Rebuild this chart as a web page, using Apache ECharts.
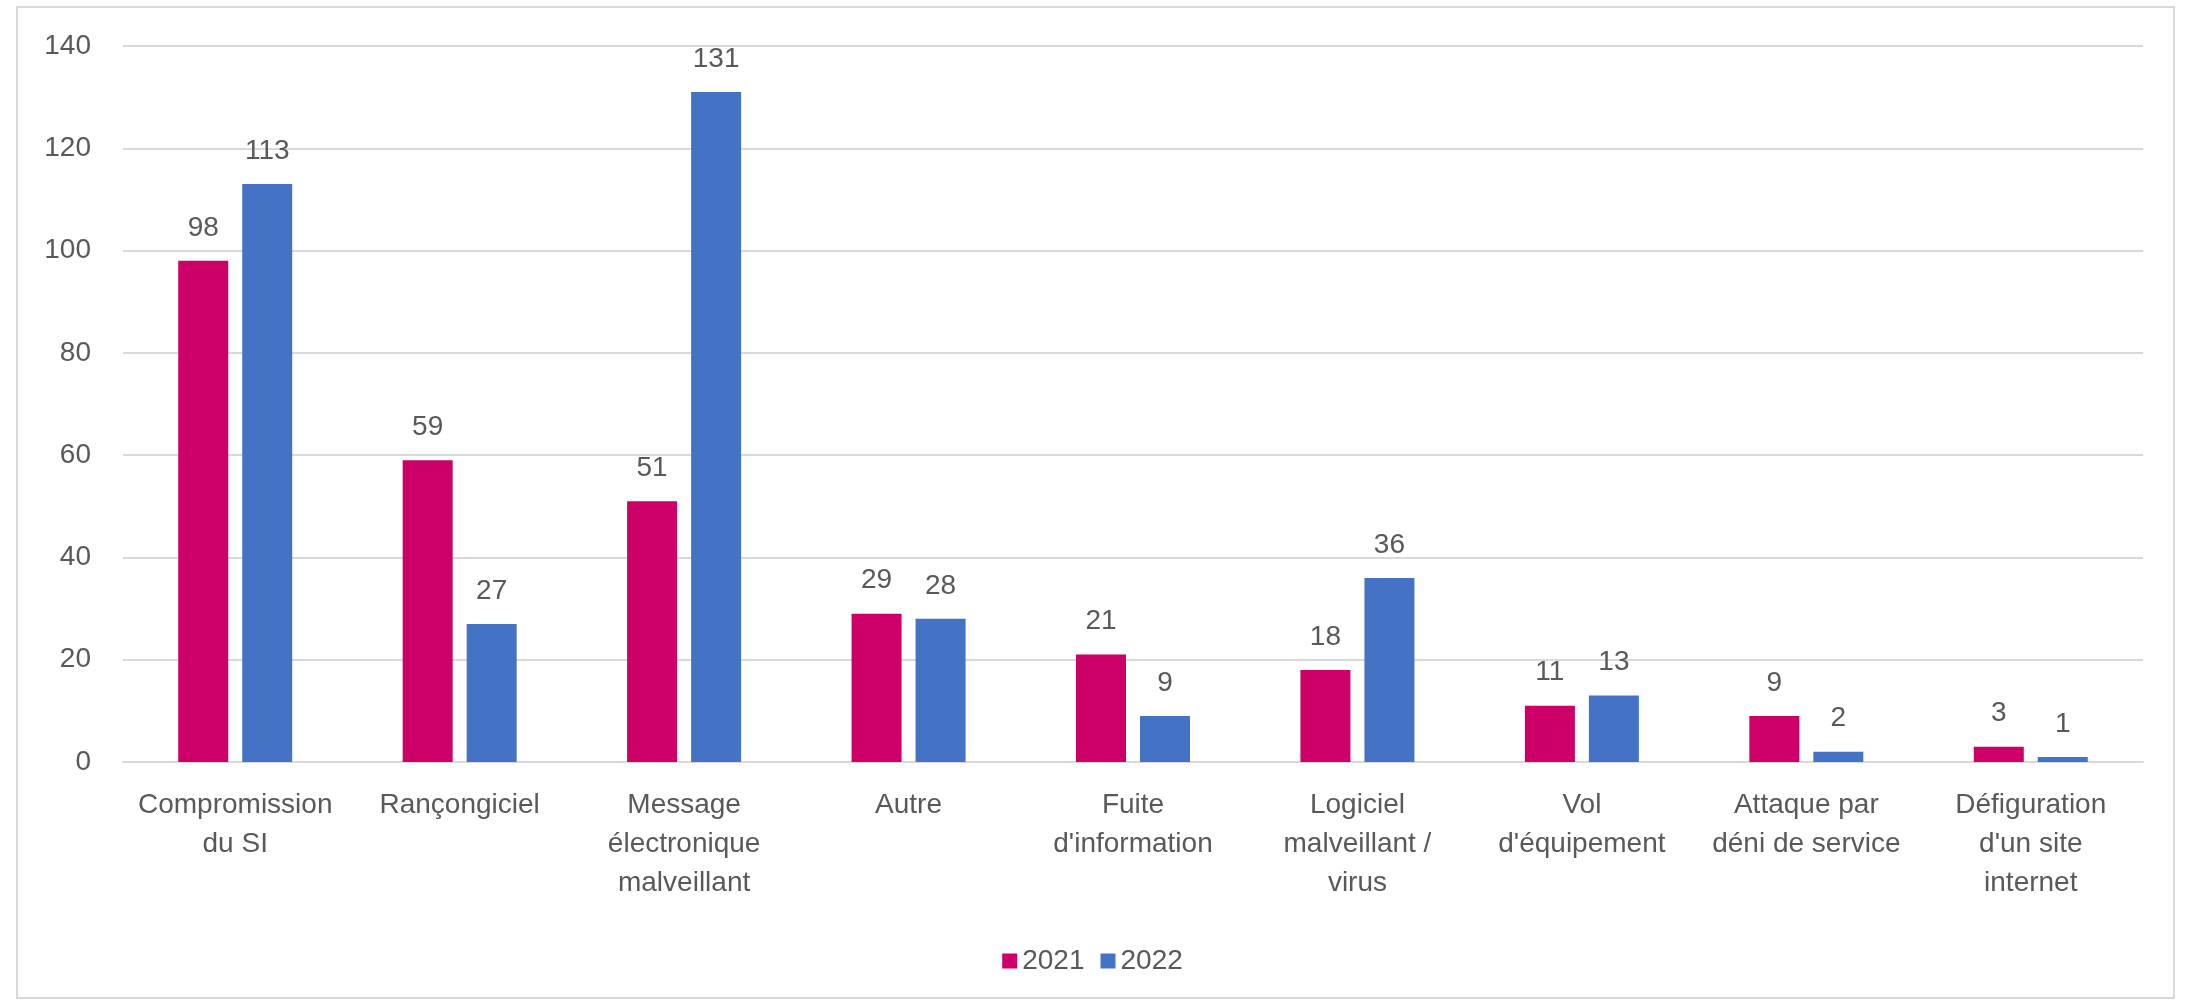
<!DOCTYPE html>
<html>
<head>
<meta charset="utf-8">
<script src="https://cdn.jsdelivr.net/npm/echarts@6/dist/echarts.min.js"></script>
<style>
html,body{margin:0;padding:0;background:#fff;}
#chart{width:2185px;height:1005px;}
</style>
</head>
<body>
<div id="chart"></div>
<script>
const categories = [
  "Compromission\ndu SI",
  "Rançongiciel",
  "Message\nélectronique\nmalveillant",
  "Autre",
  "Fuite\nd'information",
  "Logiciel\nmalveillant /\nvirus",
  "Vol\nd'équipement",
  "Attaque par\ndéni de service",
  "Défiguration\nd'un site\ninternet"
];
const seriesNames = ["2021", "2022"];
const values2021 = [98, 59, 51, 29, 21, 18, 11, 9, 3];
const values2022 = [113, 27, 131, 28, 9, 36, 13, 2, 1];
const yTicks = { min: 0, max: 140, interval: 20 };

const FONT = "Liberation Sans";
const TXT = "#595959";
const chart = echarts.init(document.getElementById('chart'));
const labelCfg = {
  show: true, position: 'top', distance: 19,
  color: TXT, fontSize: 28, fontFamily: FONT
};
chart.setOption({
  backgroundColor: '#ffffff',
  animation: false,
  graphic: [{
    type: 'rect', shape: { x: 17, y: 7, width: 2157, height: 991 },
    style: { fill: 'none', stroke: '#D9D9D9', lineWidth: 2 }, silent: true
  }],
  grid: { left: 123, right: 42, top: 46, bottom: 243 },
  legend: {
    data: seriesNames,
    left: 'center', top: 942,
    icon: 'rect', itemWidth: 15, itemHeight: 15, itemGap: 16,
    textStyle: { color: TXT, fontSize: 28, fontFamily: FONT }
  },
  xAxis: {
    type: 'category', data: categories,
    axisLine: { lineStyle: { color: '#D9D9D9', width: 2 } },
    axisTick: { show: false },
    axisLabel: {
      color: TXT, fontSize: 28, fontFamily: FONT, lineHeight: 39,
      margin: 24, interval: 0
    }
  },
  yAxis: {
    type: 'value', min: yTicks.min, max: yTicks.max, interval: yTicks.interval,
    axisLine: { show: false }, axisTick: { show: false },
    splitLine: { lineStyle: { color: '#D9D9D9', width: 2 } },
    axisLabel: { color: TXT, fontSize: 28, fontFamily: FONT, margin: 32 }
  },
  series: [
    { name: seriesNames[0], type: 'bar', data: values2021, barWidth: 50, barGap: '28%',
      itemStyle: { color: '#CC0066' }, label: labelCfg },
    { name: seriesNames[1], type: 'bar', data: values2022, barWidth: 50, barGap: '28%',
      itemStyle: { color: '#4472C4' }, label: labelCfg }
  ]
});
</script>
</body>
</html>
